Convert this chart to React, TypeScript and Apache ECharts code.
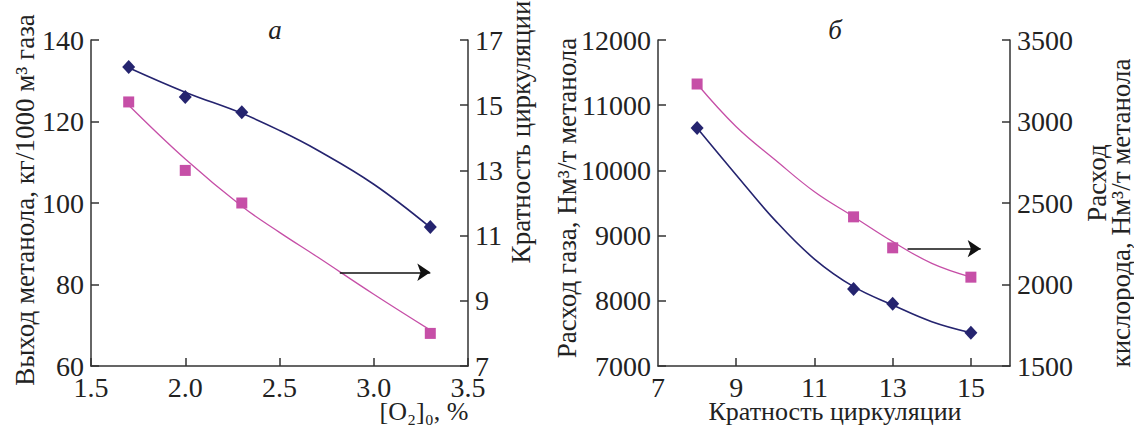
import React, { useEffect, useRef } from "react";
import * as echarts from "echarts";

// Panel а
const aX = [1.7, 2.0, 2.3, 3.3];
const aYield = [133.4, 126.0, 122.3, 94.1];
const aCirc = [15.1, 13.0, 12.0, 8.0];
const aCurveX = [1.7, 2.0, 2.3, 2.5, 2.7, 3.0, 3.3];
const aYieldCurve = [133.2, 127.2, 122.0, 117.8, 113.0, 104.6, 94.0];
const aCircCurve = [15.0, 13.35, 11.9, 11.1, 10.35, 9.2, 8.1];
const aArrow = [[2.82, 83], [3.3, 83]];
const aRightTicks = [7, 9, 11, 13, 15, 17];

// Panel б
const bX = [8, 12, 13, 15];
const bGas = [10650, 8180, 7955, 7510];
const bOxygen = [3230, 2415, 2225, 2045];
const bCurveX = [8, 9, 10, 11, 12, 13, 14, 15];
const bGasCurve = [10650, 9930, 9230, 8640, 8217, 7936, 7680, 7511];
const bOxygenCurve = [3230, 2968, 2764, 2569, 2416, 2263, 2130, 2046];
const bArrow = [[13.38, 8800], [15.25, 8800]];
const bXTicks = [9, 11, 13, 15];
const bXLabels = [7, 9, 11, 13, 15];

const NAVY = "#25246f";
const PINK = "#c64fa7";
const FONT = "Liberation Serif";

const zip = (xs: number[], ys: number[]) => xs.map((x, i) => [x, ys[i]]);

export default function App() {
  const ref = useRef<HTMLDivElement>(null);
  useEffect(() => {
    const chart = echarts.init(ref.current!, null, { renderer: "svg" });
    const labelBase = {
      color: "#222", fontFamily: FONT, fontSize: 28, margin: 7,
      formatter: (v: number) => String(v),
    };
    const axisBase = {
      axisLine: { show: true, onZero: false, lineStyle: { color: "#333", width: 1.5 } },
      axisTick: { show: true, inside: true, length: 8, lineStyle: { color: "#333", width: 1.5 } },
      splitLine: { show: false },
      axisLabel: labelBase,
    };
    const arrowLine = (pts: number[][]) => ({
      silent: true,
      symbol: ["none", "arrow"],
      symbolSize: 13,
      label: { show: false },
      lineStyle: { color: "#111", width: 1.5, type: "solid" },
      data: [[{ coord: pts[0] }, { coord: pts[1] }]],
    });
    const titleStyle = { fontFamily: FONT, fontSize: 27, fill: "#222", align: "center", verticalAlign: "middle" };
    chart.setOption({
      animation: false,
      grid: [
        { left: 91, top: 40, width: 377, height: 326 },
        { left: 658, top: 40, width: 352, height: 326 },
      ],
      xAxis: [
        {
          ...axisBase, type: "value", gridIndex: 0, min: 1.5, max: 3.5, interval: 0.5,
          axisLabel: { ...labelBase, formatter: (v: number) => v.toFixed(1) },
        },
        {
          ...axisBase, type: "value", gridIndex: 1, min: 7, max: 16,
          axisTick: { ...axisBase.axisTick, customValues: bXTicks },
          axisLabel: { ...labelBase, customValues: bXLabels },
        },
      ],
      yAxis: [
        { ...axisBase, type: "value", gridIndex: 0, min: 60, max: 140, interval: 20, position: "left" },
        {
          ...axisBase, type: "value", gridIndex: 0, min: 7, max: 17, position: "right",
          axisTick: { ...axisBase.axisTick, customValues: aRightTicks },
          axisLabel: { ...labelBase, customValues: aRightTicks },
        },
        { ...axisBase, type: "value", gridIndex: 1, min: 7000, max: 12000, interval: 1000, position: "left" },
        { ...axisBase, type: "value", gridIndex: 1, min: 1500, max: 3500, interval: 500, position: "right" },
      ],
      series: [
        {
          type: "line", xAxisIndex: 0, yAxisIndex: 0, data: zip(aCurveX, aYieldCurve),
          smooth: 0.4, showSymbol: false, lineStyle: { color: NAVY, width: 1.6 }, silent: true,
        },
        {
          type: "line", xAxisIndex: 0, yAxisIndex: 1, data: zip(aCurveX, aCircCurve),
          smooth: 0.4, showSymbol: false, lineStyle: { color: PINK, width: 1.3 }, silent: true,
        },
        {
          type: "scatter", xAxisIndex: 0, yAxisIndex: 0, data: zip(aX, aYield),
          symbol: "diamond", symbolSize: [13, 14], itemStyle: { color: NAVY, opacity: 1 },
          markLine: arrowLine(aArrow),
        },
        {
          type: "scatter", xAxisIndex: 0, yAxisIndex: 1, data: zip(aX, aCirc),
          symbol: "rect", symbolSize: 11, itemStyle: { color: PINK, opacity: 1 },
        },
        {
          type: "line", xAxisIndex: 1, yAxisIndex: 2, data: zip(bCurveX, bGasCurve),
          smooth: 0.4, showSymbol: false, lineStyle: { color: NAVY, width: 1.6 }, silent: true,
        },
        {
          type: "line", xAxisIndex: 1, yAxisIndex: 3, data: zip(bCurveX, bOxygenCurve),
          smooth: 0.4, showSymbol: false, lineStyle: { color: PINK, width: 1.3 }, silent: true,
        },
        {
          type: "scatter", xAxisIndex: 1, yAxisIndex: 2, data: zip(bX, bGas),
          symbol: "diamond", symbolSize: [13, 14], itemStyle: { color: NAVY, opacity: 1 },
          markLine: arrowLine(bArrow),
        },
        {
          type: "scatter", xAxisIndex: 1, yAxisIndex: 3, data: zip(bX, bOxygen),
          symbol: "rect", symbolSize: 11, itemStyle: { color: PINK, opacity: 1 },
        },
      ],
      graphic: [
        { type: "text", x: 25, y: 200, rotation: Math.PI / 2, style: { ...titleStyle, text: "Выход метанола, кг/1000 м³ газа" } },
        { type: "text", x: 521, y: 132, rotation: Math.PI / 2, style: { ...titleStyle, text: "Кратность циркуляции" } },
        { type: "text", x: 424, y: 411, style: { ...titleStyle, fontSize: 26, text: "[O₂]₀, %" } },
        { type: "text", x: 275, y: 30, style: { ...titleStyle, fontStyle: "italic", text: "а" } },
        { type: "text", x: 567, y: 198, rotation: Math.PI / 2, style: { ...titleStyle, text: "Расход газа, Нм³/т метанола" } },
        { type: "text", x: 835, y: 411, style: { ...titleStyle, fontSize: 26, text: "Кратность циркуляции" } },
        { type: "text", x: 835, y: 30, style: { ...titleStyle, fontStyle: "italic", text: "б" } },
        { type: "text", x: 1097, y: 183, rotation: Math.PI / 2, style: { ...titleStyle, text: "Расход" } },
        { type: "text", x: 1121, y: 213, rotation: Math.PI / 2, style: { ...titleStyle, text: "кислорода, Нм³/т метанола" } },
      ],
    });
    return () => chart.dispose();
  }, []);
  return (
    <div
      ref={ref}
      style={{ position: "absolute", left: 0, top: 0, width: 1134, height: 425, background: "#fff" }}
    />
  );
}
